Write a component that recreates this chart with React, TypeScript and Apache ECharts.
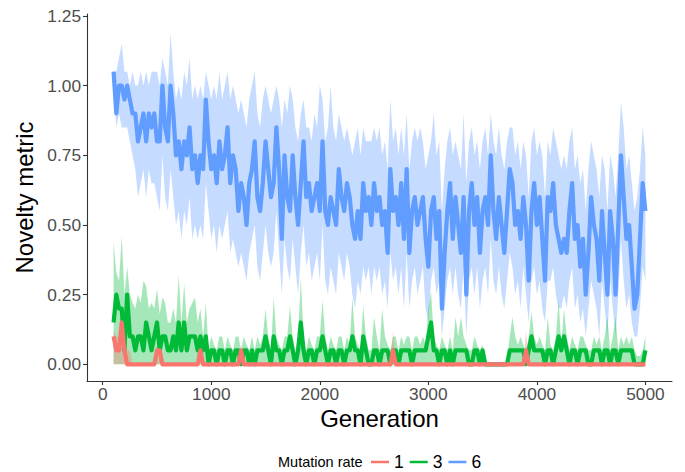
import React, { useEffect, useRef } from "react";
import * as echarts from "echarts";

// Sampling grid of the generations (every 25 generations, 100 .. 5000)
const GEN_START = 100;
const GEN_STEP = 25;

// Mutation rate 6 (blue): mean, ribbon low, ribbon high
const blueMean = [
  1.05, 0.9, 1.0, 1.0, 0.95, 1.0, 0.95, 0.9,
  0.9, 0.8, 0.85, 0.9, 0.8, 0.9, 0.85, 0.9,
  0.8, 0.8, 1.0, 0.85, 0.8, 1.0, 0.9, 0.75,
  0.8, 0.7, 0.8, 0.75, 0.85, 0.7, 0.75, 0.65,
  0.75, 0.7, 0.95, 0.8, 0.7, 0.75, 0.65, 0.8,
  0.7, 0.75, 0.85, 0.65, 0.75, 0.7, 0.55, 0.65,
  0.6, 0.5, 0.65, 0.7, 0.8, 0.6, 0.55, 0.65,
  0.8, 0.7, 0.6, 0.65, 0.85, 0.7, 0.45, 0.75,
  0.6, 0.55, 0.75, 0.6, 0.5, 0.65, 0.8, 0.6,
  0.65, 0.55, 0.6, 0.65, 0.55, 0.8, 0.55, 0.5,
  0.6, 0.55, 0.5, 0.7, 0.6, 0.55, 0.65, 0.6,
  0.5, 0.45, 0.55, 0.45, 0.65, 0.55, 0.6, 0.5,
  0.65, 0.55, 0.6, 0.5, 0.55, 0.4, 0.7, 0.55,
  0.6, 0.5, 0.65, 0.45, 0.7, 0.4, 0.55, 0.6,
  0.5, 0.55, 0.6, 0.45, 0.35, 0.55, 0.6, 0.45,
  0.55, 0.2, 0.4, 0.55, 0.65, 0.45, 0.6, 0.5,
  0.4, 0.6, 0.25, 0.55, 0.65, 0.5, 0.6, 0.4,
  0.55, 0.6, 0.5, 0.75, 0.55, 0.45, 0.6, 0.5,
  0.4, 0.55, 0.7, 0.65, 0.5, 0.55, 0.45, 0.6,
  0.5, 0.3, 0.55, 0.65, 0.5, 0.6, 0.45, 0.3,
  0.6, 0.55, 0.65, 0.5, 0.45, 0.4, 0.45, 0.4,
  0.55, 0.65, 0.45, 0.5, 0.35, 0.45, 0.25, 0.4,
  0.6, 0.5, 0.45, 0.3, 0.55, 0.4, 0.25, 0.55,
  0.45, 0.25, 0.5, 0.75, 0.6, 0.45, 0.5, 0.35,
  0.2, 0.25, 0.45, 0.65, 0.55,
];
const blueLo = [
  1.0, 0.85, 0.9, 0.85, 0.85, 0.85, 0.8, 0.75,
  0.7, 0.6, 0.65, 0.7, 0.6, 0.7, 0.65, 0.65,
  0.6, 0.55, 0.75, 0.6, 0.55, 0.7, 0.6, 0.5,
  0.55, 0.45, 0.55, 0.5, 0.6, 0.45, 0.5, 0.45,
  0.5, 0.45, 0.65, 0.55, 0.45, 0.5, 0.4, 0.5,
  0.45, 0.5, 0.55, 0.4, 0.45, 0.4, 0.35, 0.4,
  0.35, 0.3, 0.4, 0.45, 0.5, 0.35, 0.3, 0.4,
  0.5, 0.4, 0.35, 0.4, 0.55, 0.4, 0.25, 0.45,
  0.35, 0.3, 0.45, 0.35, 0.25, 0.4, 0.5, 0.35,
  0.4, 0.3, 0.35, 0.4, 0.3, 0.5, 0.3, 0.25,
  0.35, 0.3, 0.25, 0.4, 0.35, 0.3, 0.4, 0.35,
  0.25, 0.2, 0.3, 0.25, 0.35, 0.3, 0.35, 0.25,
  0.35, 0.3, 0.35, 0.25, 0.3, 0.2, 0.4, 0.3,
  0.35, 0.25, 0.35, 0.2, 0.4, 0.2, 0.3, 0.35,
  0.25, 0.3, 0.35, 0.2, 0.15, 0.3, 0.35, 0.25,
  0.3, 0.1, 0.2, 0.3, 0.35, 0.25, 0.35, 0.25,
  0.2, 0.35, 0.1, 0.3, 0.35, 0.25, 0.35, 0.2,
  0.3, 0.35, 0.25, 0.45, 0.3, 0.25, 0.35, 0.25,
  0.2, 0.3, 0.4, 0.35, 0.25, 0.3, 0.2, 0.35,
  0.25, 0.15, 0.3, 0.35, 0.25, 0.3, 0.2, 0.15,
  0.3, 0.3, 0.35, 0.25, 0.2, 0.2, 0.25, 0.2,
  0.3, 0.35, 0.2, 0.25, 0.15, 0.2, 0.1, 0.2,
  0.3, 0.25, 0.2, 0.1, 0.3, 0.2, 0.1, 0.3,
  0.2, 0.1, 0.25, 0.45, 0.3, 0.2, 0.25, 0.15,
  0.1, 0.1, 0.2, 0.35, 0.3,
];
const blueHi = [
  1.05, 1.05, 1.1, 1.15, 1.05, 1.05, 1.0, 1.05,
  1.0, 1.0, 1.05, 1.0, 1.05, 1.0, 1.05, 1.05,
  1.05, 1.0, 1.1, 1.05, 1.0, 1.19, 1.05, 0.95,
  1.0, 0.95, 1.05, 1.0, 1.1, 0.95, 1.0, 0.95,
  1.0, 0.95, 1.05, 1.0, 0.95, 1.0, 0.95, 1.05,
  0.95, 1.0, 1.05, 0.95, 1.0, 0.95, 0.9, 0.95,
  0.9, 0.85, 0.95, 1.0, 1.05, 0.9, 0.85, 0.95,
  1.0, 0.95, 0.9, 0.95, 1.0, 0.95, 0.85, 0.95,
  0.9, 1.0, 0.95, 0.85, 0.8, 0.9, 0.95, 0.85,
  0.85, 0.8, 0.9, 0.85, 1.0, 0.95, 0.8, 0.85,
  1.0, 0.85, 0.8, 0.9, 0.85, 0.8, 0.85, 0.8,
  0.75, 0.8, 0.85, 0.75, 0.85, 0.8, 0.8, 0.8,
  0.85, 0.8, 0.85, 0.75, 0.8, 0.7, 0.95, 0.8,
  0.85, 0.75, 0.85, 0.75, 0.9, 0.7, 0.8, 0.85,
  0.8, 0.85, 0.8, 0.7, 0.75, 0.8, 0.9, 0.75,
  0.8, 0.55, 0.7, 0.8, 0.85, 0.75, 0.8, 0.75,
  0.7, 0.9, 0.65, 0.8, 0.85, 0.75, 0.8, 0.7,
  0.8, 0.85, 0.75, 0.9, 0.8, 0.75, 0.85, 0.75,
  0.7, 0.8, 0.85, 0.85, 0.75, 0.8, 0.7, 0.8,
  0.75, 0.6, 0.8, 0.85, 0.75, 0.8, 0.75, 0.6,
  0.8, 0.75, 0.85, 0.8, 0.75, 0.7, 0.75, 0.7,
  0.8, 0.85, 0.7, 0.75, 0.65, 0.7, 0.55, 0.7,
  0.8, 0.75, 0.7, 0.6, 0.75, 0.7, 0.55, 0.75,
  0.7, 0.6, 0.75, 0.94, 0.85, 0.7, 0.75, 0.65,
  0.55, 0.6, 0.7, 0.85, 0.75,
];

// Mutation rate 3 (green): mean and ribbon high (ribbon low is 0)
const greenMean = [
  0.15, 0.25, 0.2, 0.2, 0.05, 0.25, 0.1, 0.1,
  0.05, 0.1, 0.1, 0.05, 0.15, 0.1, 0.05, 0.1,
  0.15, 0.05, 0.1, 0.1, 0.05, 0.05, 0.1, 0.05,
  0.15, 0.05, 0.15, 0.05, 0.1, 0.1, 0.1, 0.05,
  0.1, 0.05, 0.1, 0.0, 0.05, 0.05, 0.0, 0.05,
  0.05, 0.0, 0.05, 0.05, 0.0, 0.05, 0.05, 0.0,
  0.05, 0.05, 0.0, 0.05, 0.0, 0.05, 0.05, 0.05,
  0.1, 0.05, 0.0, 0.1, 0.05, 0.05, 0.0, 0.05,
  0.05, 0.1, 0.05, 0.0, 0.05, 0.15, 0.05, 0.0,
  0.05, 0.05, 0.0, 0.05, 0.05, 0.1, 0.05, 0.0,
  0.05, 0.05, 0.0, 0.05, 0.05, 0.0, 0.05, 0.05,
  0.1, 0.05, 0.05, 0.0, 0.1, 0.05, 0.0, 0.0,
  0.05, 0.05, 0.0, 0.05, 0.05, 0.05, 0.0, 0.05,
  0.05, 0.0, 0.05, 0.05, 0.05, 0.05, 0.0, 0.05,
  0.05, 0.05, 0.05, 0.05, 0.1, 0.15, 0.05, 0.05,
  0.0, 0.05, 0.05, 0.0, 0.05, 0.0, 0.05, 0.05,
  0.05, 0.05, 0.05, 0.0, 0.0, 0.05, 0.05, 0.0,
  0.05, 0.0, 0.0, 0.0, 0.0, 0.0, 0.0, 0.0,
  0.0, 0.0, 0.05, 0.05, 0.05, 0.05, 0.05, 0.05,
  0.0, 0.05, 0.1, 0.05, 0.05, 0.05, 0.05, 0.0,
  0.05, 0.05, 0.0, 0.05, 0.1, 0.05, 0.1, 0.05,
  0.0, 0.05, 0.05, 0.0, 0.05, 0.05, 0.05, 0.0,
  0.0, 0.05, 0.05, 0.05, 0.0, 0.05, 0.05, 0.0,
  0.05, 0.05, 0.0, 0.05, 0.05, 0.05, 0.05, 0.05,
  0.0, 0.0, 0.0, 0.0, 0.05,
];
const greenHi = [
  0.44, 0.33, 0.3, 0.46, 0.25, 0.35, 0.25, 0.22,
  0.2, 0.25, 0.22, 0.3, 0.28, 0.2, 0.22, 0.2,
  0.27, 0.18, 0.24, 0.22, 0.15, 0.15, 0.2, 0.15,
  0.32, 0.15, 0.29, 0.15, 0.2, 0.22, 0.24, 0.15,
  0.2, 0.1, 0.22, 0.05, 0.1, 0.07, 0.05, 0.1,
  0.1, 0.05, 0.1, 0.07, 0.05, 0.1, 0.1, 0.05,
  0.1, 0.07, 0.05, 0.1, 0.05, 0.1, 0.07, 0.1,
  0.2, 0.1, 0.05, 0.24, 0.1, 0.07, 0.05, 0.1,
  0.1, 0.21, 0.1, 0.05, 0.1, 0.31, 0.1, 0.05,
  0.1, 0.07, 0.05, 0.1, 0.1, 0.23, 0.1, 0.05,
  0.1, 0.07, 0.05, 0.1, 0.1, 0.05, 0.1, 0.07,
  0.24, 0.1, 0.07, 0.05, 0.21, 0.1, 0.05, 0.05,
  0.17, 0.1, 0.05, 0.2, 0.1, 0.07, 0.05, 0.1,
  0.1, 0.05, 0.1, 0.07, 0.1, 0.1, 0.05, 0.1,
  0.1, 0.07, 0.1, 0.07, 0.2, 0.26, 0.1, 0.07,
  0.05, 0.1, 0.07, 0.05, 0.1, 0.05, 0.17, 0.1,
  0.17, 0.1, 0.07, 0.05, 0.05, 0.1, 0.07, 0.05,
  0.07, 0.0, 0.0, 0.0, 0.0, 0.0, 0.0, 0.0,
  0.0, 0.02, 0.1, 0.17, 0.1, 0.07, 0.1, 0.07,
  0.05, 0.1, 0.19, 0.1, 0.07, 0.1, 0.07, 0.05,
  0.17, 0.07, 0.05, 0.1, 0.23, 0.07, 0.2, 0.1,
  0.05, 0.1, 0.07, 0.05, 0.1, 0.1, 0.07, 0.05,
  0.05, 0.1, 0.07, 0.1, 0.05, 0.1, 0.17, 0.05,
  0.1, 0.17, 0.05, 0.1, 0.07, 0.1, 0.07, 0.1,
  0.05, 0.03, 0.03, 0.05, 0.1,
];

// Mutation rate 1 (red): mean and ribbon high (ribbon low is 0)
const redMean = [
  0.1, 0.05, 0.05, 0.15, 0.05, 0, 0, 0,
  0, 0, 0, 0, 0, 0, 0, 0,
  0.05, 0.05, 0, 0, 0, 0, 0, 0,
  0, 0, 0, 0, 0, 0, 0, 0,
  0.05, 0, 0, 0, 0, 0, 0, 0,
  0, 0, 0, 0, 0, 0, 0, 0.05,
  0, 0, 0, 0, 0, 0, 0, 0,
  0, 0, 0, 0, 0, 0, 0, 0,
  0, 0, 0, 0, 0, 0, 0, 0,
  0, 0, 0, 0, 0, 0, 0, 0,
  0, 0, 0, 0, 0, 0, 0, 0,
  0, 0, 0, 0, 0, 0, 0, 0,
  0, 0, 0, 0, 0, 0, 0, 0.05,
  0, 0, 0, 0, 0, 0, 0, 0,
  0, 0, 0, 0, 0, 0, 0, 0,
  0, 0, 0, 0, 0, 0, 0, 0,
  0, 0, 0, 0, 0, 0, 0, 0,
  0, 0, 0, 0, 0, 0, 0, 0,
  0, 0, 0, 0, 0, 0, 0, 0,
  0.05, 0, 0, 0, 0, 0, 0, 0,
  0, 0, 0, 0, 0, 0, 0, 0,
  0, 0, 0, 0, 0, 0, 0, 0,
  0, 0, 0, 0, 0, 0, 0, 0,
  0, 0, 0, 0, 0, 0, 0, 0,
  0, 0, 0, 0, 0,
];
const redHi = [
  0.12, 0.1, 0.1, 0.2, 0.1, 0.05, 0.05, 0,
  0, 0, 0, 0, 0, 0, 0, 0,
  0.07, 0.07, 0, 0, 0, 0, 0, 0,
  0, 0, 0, 0, 0, 0, 0, 0,
  0.06, 0, 0, 0, 0, 0, 0, 0,
  0, 0, 0, 0, 0, 0, 0, 0.07,
  0, 0, 0, 0, 0, 0, 0, 0,
  0, 0, 0, 0, 0, 0, 0, 0,
  0, 0, 0, 0, 0, 0, 0, 0,
  0, 0, 0, 0, 0, 0, 0, 0,
  0, 0, 0, 0, 0, 0, 0, 0,
  0, 0, 0, 0, 0, 0, 0, 0,
  0, 0, 0, 0, 0, 0, 0, 0.12,
  0, 0, 0, 0, 0, 0, 0, 0,
  0, 0, 0, 0, 0, 0, 0, 0,
  0, 0, 0, 0, 0, 0, 0, 0,
  0, 0, 0, 0, 0, 0, 0, 0,
  0, 0, 0, 0, 0, 0, 0, 0,
  0, 0, 0, 0, 0, 0, 0, 0,
  0.12, 0, 0, 0, 0, 0, 0, 0,
  0, 0, 0, 0, 0, 0, 0, 0,
  0, 0, 0, 0, 0, 0, 0, 0,
  0, 0, 0, 0, 0, 0, 0, 0,
  0, 0, 0, 0, 0, 0, 0, 0,
  0, 0, 0, 0, 0,
];

const xTicks = [0, 1000, 2000, 3000, 4000, 5000];
const yTicks = [0, 0.25, 0.5, 0.75, 1.0, 1.25];
const legendLabels = ["1", "3", "6"];
const legendTitle = "Mutation rate";
const xTitle = "Generation";
const yTitle = "Novelty metric";

const RED = "#F8766D";
const GREEN = "#00BA38";
const BLUE = "#619CFF";
const FONT = "'Liberation Sans', Arial, sans-serif";

export default function App() {
  const ref = useRef<HTMLDivElement>(null);

  useEffect(() => {
    if (!ref.current) return;
    const chart = echarts.init(ref.current, null, { renderer: "svg" });
    const gens = blueMean.map((_, i) => GEN_START + GEN_STEP * i);
    const pair = (arr: number[]) => arr.map((v, i) => [gens[i], v]);

    // Ribbon drawn as one polygon through the cartesian coordinate system
    const ribbon = (name: string, lo: number[], hi: number[], fill: string) => ({
      type: "custom",
      name,
      coordinateSystem: "cartesian2d",
      silent: true,
      z: 1,
      data: gens.map((g, i) => [g, lo[i], hi[i]]),
      encode: { x: 0, y: [1, 2] },
      renderItem: (params: any, api: any) => {
        if (params.dataIndex !== 0) return null;
        const pts: number[][] = [];
        for (let i = 0; i < gens.length; i++) pts.push(api.coord([gens[i], hi[i]]));
        for (let i = gens.length - 1; i >= 0; i--) pts.push(api.coord([gens[i], lo[i]]));
        return { type: "polygon", shape: { points: pts }, style: { fill } };
      },
    });

    const areaSeries = (name: string, data: number[], fill: string) => ({
      type: "line",
      name,
      data: pair(data),
      symbol: "none",
      showSymbol: false,
      silent: true,
      z: 1,
      lineStyle: { width: 0, opacity: 0 },
      areaStyle: { color: fill, opacity: 1 },
    });

    const lineSeries = (name: string, data: number[], color: string, z: number) => ({
      type: "line",
      name,
      data: pair(data),
      showSymbol: false,
      symbol: "none",
      z,
      itemStyle: { color },
      lineStyle: { color, width: 4.2, join: "round" },
    });

    const option: any = {
      animation: false,
      textStyle: { fontFamily: FONT },
      grid: { left: 87, right: 13, top: 14, bottom: 91, containLabel: false },
      legend: {
        data: legendLabels,
        left: 371,
        top: 453,
        padding: 0,
        icon: "rect",
        itemWidth: 18,
        itemHeight: 2.5,
        itemGap: 6,
        textStyle: { fontSize: 17.5, lineHeight: 18, color: "#000", fontFamily: FONT },
      },
      graphic: [
        {
          type: "text",
          x: 278,
          y: 462,
          style: {
            text: legendTitle,
            fontSize: 14.5,
            fill: "#000",
            fontFamily: FONT,
            align: "left",
            verticalAlign: "middle",
          },
        },
      ],
      xAxis: {
        type: "value",
        min: -145,
        max: 5245,
        name: xTitle,
        nameLocation: "middle",
        nameGap: 16,
        nameTextStyle: { fontSize: 24, color: "#000", fontFamily: FONT, verticalAlign: "top" },
        axisLine: { show: true, onZero: false, lineStyle: { color: "#333", width: 1.1 } },
        axisTick: { show: true, customValues: xTicks, length: 4, lineStyle: { color: "#333", width: 1.1 } },
        axisLabel: {
          customValues: xTicks,
          fontSize: 17.3,
          color: "#4D4D4D",
          margin: 4,
          fontFamily: FONT,
          formatter: (v: number) => String(v),
        },
        splitLine: { show: false },
      },
      yAxis: {
        type: "value",
        min: -0.06,
        max: 1.257,
        name: yTitle,
        nameLocation: "middle",
        nameGap: 50,
        nameTextStyle: { fontSize: 24, color: "#000", fontFamily: FONT },
        axisLine: { show: true, onZero: false, lineStyle: { color: "#333", width: 1.1 } },
        axisTick: { show: true, customValues: yTicks, length: 4, lineStyle: { color: "#333", width: 1.1 } },
        axisLabel: {
          customValues: yTicks,
          fontSize: 17.3,
          color: "#4D4D4D",
          margin: 6,
          fontFamily: FONT,
          formatter: (v: number) => v.toFixed(2),
        },
        splitLine: { show: false },
      },
      series: [
        ribbon("band6", blueLo, blueHi, "rgba(97,156,255,0.37)"),
        areaSeries("band3", greenHi, "rgba(0,186,56,0.35)"),
        areaSeries("band1", redHi, "rgba(248,118,109,0.35)"),
        lineSeries("3", greenMean, GREEN, 3),
        lineSeries("1", redMean, RED, 4),
        lineSeries("6", blueMean, BLUE, 5),
      ],
    };
    chart.setOption(option);
    return () => chart.dispose();
  }, []);

  return (
    <div
      ref={ref}
      style={{ position: "fixed", left: 0, top: 0, width: 685, height: 472, background: "#fff" }}
    />
  );
}
